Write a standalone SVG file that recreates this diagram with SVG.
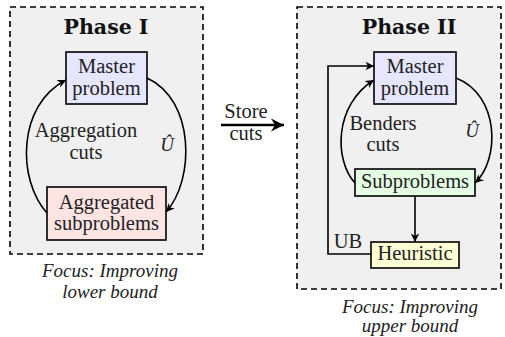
<svg xmlns="http://www.w3.org/2000/svg" width="505" height="337" viewBox="0 0 505 337">
  <style>
    .phase { fill: #f0f0f0; stroke: #000; stroke-width: 1.6; stroke-dasharray: 6 4; }
    .box { stroke: #000; stroke-width: 1.6; }
    .title { font-family: "DejaVu Serif", "Liberation Serif", serif; font-weight: bold; font-size: 20.5px; text-anchor: middle; fill: #111; }
    .lbl { font-family: "Liberation Serif", "DejaVu Serif", serif; font-size: 20.5px; text-anchor: middle; fill: #222; }
    .it { font-family: "Liberation Serif", "DejaVu Serif", serif; font-style: italic; font-size: 19px; text-anchor: middle; fill: #222; }
    .edge { fill: none; stroke: #000; stroke-width: 1.6; }
    .master { fill: #e6e6ff; }
    .agg { fill: #ffe4e4; }
    .sub { fill: #e4ffe4; }
    .heur { fill: #ffffd6; }
  </style>
  <defs>
    <marker id="arrow" viewBox="-10 -6 12 12" refX="0" refY="0" markerWidth="12" markerHeight="12" markerUnits="userSpaceOnUse" orient="auto">
      <path d="M0,0 L-8.5,-4.2 L-6,0 L-8.5,4.2 Z" fill="#000"/>
    </marker>
    <marker id="bigarrow" viewBox="-14 -8 16 16" refX="0" refY="0" markerWidth="16" markerHeight="16" markerUnits="userSpaceOnUse" orient="auto">
      <path d="M0,0 L-13,-6.5 L-9,0 L-13,6.5 Z" fill="#000"/>
    </marker>
  </defs>

  <!-- phase frames -->
  <g id="phase1">
    <rect class="phase" x="10" y="7" width="193" height="247"/>
    <text class="title" x="106" y="34">Phase I</text>
    <text class="it" x="110" y="277">Focus: Improving</text>
    <text class="it" x="110" y="298">lower bound</text>
  </g>
  <g id="phase2">
    <rect class="phase" x="297" y="7" width="204" height="282"/>
    <text class="title" x="409" y="34">Phase II</text>
    <text class="it" x="410" y="313">Focus: Improving</text>
    <text class="it" x="410" y="332">upper bound</text>
  </g>

  <!-- connectors -->
  <g id="connectors">
    <path class="edge" d="M47,213 C17,180 17,105 66,80" marker-end="url(#arrow)"/>
    <path class="edge" d="M147,78 C195,100 195,180 166,212" marker-end="url(#arrow)"/>
    <path fill="none" stroke="#000" stroke-width="2.6" d="M221,125 H284" marker-end="url(#bigarrow)"/>
    <path class="edge" d="M355,183 C334,160 334,105 374,80" marker-end="url(#arrow)"/>
    <path class="edge" d="M456,78 C500,95 500,160 475,183" marker-end="url(#arrow)"/>
    <path class="edge" d="M415,196 V242" marker-end="url(#arrow)"/>
    <path class="edge" d="M371,254 H328 V66 H374" marker-end="url(#arrow)"/>
    <text class="lbl" x="86" y="137">Aggregation</text>
    <text class="lbl" x="86" y="159">cuts</text>
    <text class="it" x="167" y="151">Û</text>
    <text class="lbl" x="246" y="118">Store</text>
    <text class="lbl" x="246" y="140">cuts</text>
    <text class="lbl" x="383" y="130">Benders</text>
    <text class="lbl" x="383" y="151">cuts</text>
    <text class="it" x="472" y="137">Û</text>
    <text class="lbl" x="348" y="248">UB</text>
  </g>

  <!-- nodes -->
  <g id="master1">
    <rect class="box master" x="66" y="52" width="81" height="52"/>
    <text class="lbl" x="106.5" y="73">Master</text>
    <text class="lbl" x="106.5" y="95">problem</text>
  </g>
  <g id="aggregated">
    <rect class="box agg" x="47" y="187" width="119" height="53"/>
    <text class="lbl" x="106.5" y="209">Aggregated</text>
    <text class="lbl" x="106.5" y="230">subproblems</text>
  </g>
  <g id="master2">
    <rect class="box master" x="374" y="52" width="82" height="52"/>
    <text class="lbl" x="415" y="73">Master</text>
    <text class="lbl" x="415" y="95">problem</text>
  </g>
  <g id="subproblems">
    <rect class="box sub" x="355" y="169" width="120" height="27"/>
    <text class="lbl" x="415" y="188">Subproblems</text>
  </g>
  <g id="heuristic">
    <rect class="box heur" x="371" y="242" width="88" height="26"/>
    <text class="lbl" x="415" y="260">Heuristic</text>
  </g>
</svg>
